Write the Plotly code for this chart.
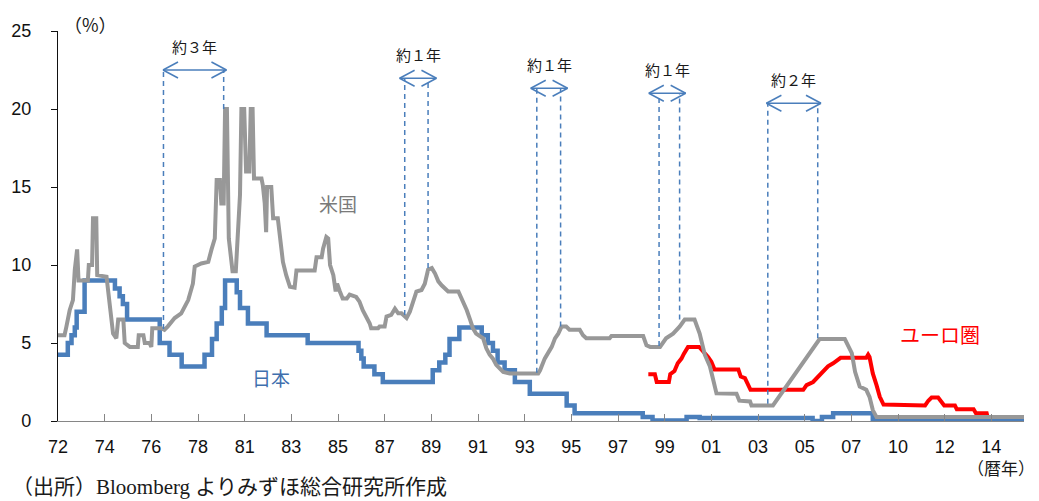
import plotly.graph_objects as go

# Time axis: one unit per labelled step
tick_labels = ["72", "74", "76", "78", "81", "83", "85", "87", "89", "91", "93",
               "95", "97", "99", "01", "03", "05", "07", "10", "12", "14"]

# Japan policy rate (step series)
jp_t = [0.00, 0.21, 0.29, 0.36, 0.40, 0.57, 1.22, 1.32, 1.39, 1.48, 2.18, 2.39,
        2.65, 3.14, 3.30, 3.40, 3.51, 3.58, 3.83, 3.90, 4.07, 4.47, 5.35, 6.44,
        6.50, 6.55, 6.78, 6.96, 8.03, 8.17, 8.30, 8.39, 8.60, 9.08, 9.21, 9.32,
        9.42, 9.57, 9.79, 10.11, 10.90, 11.07, 12.53, 12.74, 13.47, 13.75,
        16.17, 16.37, 16.61, 17.46, 20.70]
jp_rate = [4.25, 5.0, 5.5, 6.0, 7.0, 9.0, 8.5, 8.0, 7.5, 6.5, 5.0, 4.25,
           3.5, 4.25, 5.25, 6.25, 7.25, 9.0, 8.25, 7.25, 6.25, 5.5, 5.0, 4.5,
           4.0, 3.5, 3.0, 2.5, 3.25, 3.75, 4.25, 5.25, 6.0, 5.5, 5.0, 4.5,
           3.75, 3.25, 2.5, 1.75, 1.0, 0.5, 0.25, 0.03, 0.25, 0.2,
           0.0, 0.25, 0.5, 0.15, 0.15]

# US policy rate
us_t = [0.00, 0.14, 0.18, 0.25, 0.32, 0.36, 0.41, 0.44, 0.64, 0.66, 0.73, 0.75,
        0.82, 0.84, 1.04, 1.11, 1.18, 1.25, 1.29, 1.40, 1.43, 1.54, 1.71, 1.73,
        1.83, 1.86, 1.96, 2.00, 2.02, 2.21, 2.28, 2.35, 2.50, 2.64, 2.79, 2.89,
        2.93, 3.07, 3.22, 3.29, 3.36, 3.40, 3.47, 3.50, 3.55, 3.58, 3.62, 3.66,
        3.74, 3.81, 3.86, 3.90, 3.93, 3.99, 4.03, 4.10, 4.13, 4.17, 4.20, 4.36,
        4.39, 4.43, 4.46, 4.48, 4.57, 4.61, 4.71, 4.75, 4.82, 4.89, 4.97, 5.07,
        5.11, 5.50, 5.54, 5.65, 5.68, 5.75, 5.79, 5.83, 5.90, 5.95, 5.98, 6.04,
        6.10, 6.19, 6.25, 6.39, 6.46, 6.53, 6.61, 6.68, 6.71, 6.86, 6.89, 7.00,
        7.04, 7.14, 7.22, 7.29, 7.36, 7.47, 7.54, 7.61, 7.68, 7.79, 7.86, 7.93,
        8.01, 8.08, 8.15, 8.22, 8.29, 8.36, 8.58, 8.61, 8.69, 8.76, 8.83, 8.89,
        8.96, 9.11, 9.18, 9.25, 9.32, 9.39, 9.54, 9.68, 10.29, 10.33, 10.43,
        10.51, 10.58, 10.65, 10.72, 10.79, 10.89, 10.96, 11.18, 11.25, 11.32,
        11.82, 11.86, 12.54, 12.61, 12.69, 12.90, 13.03, 13.18, 13.32, 13.43,
        13.64, 13.75, 13.86, 13.97, 14.04, 14.11, 14.54, 14.60, 14.83, 14.86,
        15.32, 16.32, 16.86, 17.01, 17.08, 17.18, 17.32, 17.39, 17.46, 17.54,
        20.70]
us_rate = [5.5, 5.5, 6.05, 7.1, 7.75, 9.7, 11.0, 9.0, 9.0, 10.0, 10.0, 13.0,
           13.0, 9.35, 9.25, 7.1, 5.6, 5.3, 6.5, 6.5, 5.0, 4.75, 4.75, 5.5,
           5.5, 5.0, 5.0, 4.75, 5.95, 5.95, 5.85, 6.05, 6.6, 6.9, 7.75, 8.8,
           9.9, 10.1, 10.2, 11.0, 11.7, 15.45, 15.45, 13.95, 13.95, 20.0, 20.0, 11.7,
           9.6, 9.6, 12.35, 14.5, 20.0, 20.0, 16.0, 16.0, 20.0, 20.0, 15.55, 15.55,
           15.1, 13.95, 12.1, 15.0, 15.0, 13.0, 13.0, 11.9, 10.2, 9.35, 8.6, 8.55,
           9.65, 9.65, 10.5, 10.5, 11.05, 11.8, 11.7, 10.0, 9.35, 8.3, 8.8, 8.3,
           7.85, 7.85, 8.1, 7.95, 7.65, 7.1, 6.7, 6.25, 5.95, 5.95, 6.05, 6.05,
           6.7, 6.8, 7.2, 6.9, 6.9, 6.6, 7.0, 7.65, 8.3, 8.4, 8.8, 9.7,
           9.8, 9.45, 8.95, 8.7, 8.5, 8.3, 8.3, 8.1, 7.65, 7.1, 6.5, 5.95,
           5.6, 5.3, 4.65, 4.25, 4.0, 3.6, 3.15, 3.05, 3.05, 3.25, 4.0,
           4.45, 4.75, 5.3, 5.6, 6.05, 6.05, 5.85, 5.85, 5.5, 5.3,
           5.3, 5.45, 5.45, 4.85, 4.75, 4.75, 5.3, 5.6, 6.05, 6.5,
           6.5, 5.6, 4.25, 3.5, 2.65, 1.77, 1.75, 1.3, 1.25, 1.0,
           1.0, 5.25, 5.25, 4.35, 3.15, 2.2, 2.0, 1.55, 0.7, 0.25,
           0.25]

# Euro area policy rate
ez_t = [12.65, 12.79, 12.83, 13.09, 13.12, 13.21, 13.28, 13.36, 13.41, 13.50,
        13.74, 13.82, 13.93, 14.00, 14.07, 14.58, 14.63, 14.72, 14.77, 14.84,
        15.97, 16.04, 16.18, 16.29, 16.40, 16.50, 16.61, 16.72, 16.77, 17.32,
        17.36, 17.39, 17.46, 17.54, 17.61, 17.69, 18.58, 18.65, 18.72, 18.86,
        18.94, 18.99, 19.22, 19.26, 19.62, 19.67, 19.90, 19.92, 20.18, 20.22,
        20.70]
ez_rate = [3.0, 3.0, 2.5, 2.5, 3.0, 3.2, 3.7, 4.0, 4.3, 4.75,
           4.75, 4.5, 4.1, 3.8, 3.3, 3.3, 2.85, 2.75, 2.4, 2.0,
           2.0, 2.3, 2.5, 2.85, 3.15, 3.5, 3.7, 3.9, 4.05, 4.05,
           4.25, 4.1, 3.05, 2.3, 1.55, 1.05, 1.0, 1.3, 1.5, 1.5,
           1.15, 1.0, 1.0, 0.75, 0.75, 0.5, 0.5, 0.25, 0.25, 0.05,
           0.05]

# Lag between US and Japan turning points
lag_labels = ["約３年", "約１年", "約１年", "約１年", "約２年"]
lag_start = [2.26, 7.43, 10.26, 12.88, 15.21]
lag_end = [3.55, 7.93, 10.77, 13.32, 16.28]
lag_start_level = [5.9, 6.8, 3.1, 4.8, 1.1]
lag_end_level = [20.0, 9.8, 6.05, 6.5, 5.3]
arrow_left = [2.25, 7.32, 10.13, 12.66, 15.18]
arrow_right = [3.61, 8.11, 10.92, 13.45, 16.35]
arrow_level = [22.5, 21.97, 21.33, 21.01, 20.37]

GRAY = "#989898"
BLUE = "#4a7ebb"
RED = "#ff0000"
ANN = "#4a7ebb"
JP_FONT = "Noto Sans CJK JP"

fig = go.Figure()
fig.add_trace(go.Scatter(x=ez_t, y=ez_rate, mode="lines", name="ユーロ圏",
                         line=dict(color=RED, width=4), cliponaxis=False))
fig.add_trace(go.Scatter(x=jp_t, y=jp_rate, mode="lines", name="日本",
                         line=dict(color=BLUE, width=4.5, shape="hv"), cliponaxis=False))
fig.add_trace(go.Scatter(x=us_t, y=us_rate, mode="lines", name="米国",
                         line=dict(color=GRAY, width=4), cliponaxis=False))

shapes = []
annotations = []
for i, lab in enumerate(lag_labels):
    lv = arrow_level[i]
    # dashed guides from the turning points up to the arrow
    for xs, lo in ((lag_start[i], lag_start_level[i]), (lag_end[i], lag_end_level[i])):
        shapes.append(dict(type="line", xref="x", yref="y", x0=xs, x1=xs, y0=lo, y1=lv,
                           line=dict(color=ANN, width=1.5, dash="5px,4px")))
    # double-headed arrow
    shapes.append(dict(type="line", xref="x", yref="y", x0=arrow_left[i], x1=arrow_right[i],
                       y0=lv, y1=lv, line=dict(color=ANN, width=1.5)))
    for anchor, sgn in ((arrow_left[i], 1), (arrow_right[i], -1)):
        for dy in (8, -8):
            shapes.append(dict(type="line", xref="x", yref="y",
                               xsizemode="pixel", ysizemode="pixel",
                               xanchor=anchor, yanchor=lv,
                               x0=0, x1=15 * sgn, y0=0, y1=dy,
                               line=dict(color=ANN, width=1.5)))
    annotations.append(dict(x=(arrow_left[i] + arrow_right[i]) / 2, y=lv, yshift=24,
                            text=lab, showarrow=False, xanchor="center", yanchor="middle",
                            font=dict(family=JP_FONT, size=15, color="#1a1a1a")))

# series names
annotations += [
    dict(x=6.01, y=13.97, text="米国", showarrow=False,
         font=dict(family=JP_FONT, size=19, color="#7a7a7a")),
    dict(x=4.57, y=2.82, text="日本", showarrow=False,
         font=dict(family=JP_FONT, size=19, color="#3f6fae")),
    dict(x=18.90, y=5.55, text="ユーロ圏", showarrow=False,
         font=dict(family=JP_FONT, size=20, color=RED)),
    dict(x=0, y=25, xref="x", yref="y", xanchor="left", yanchor="middle",
         xshift=4, yshift=7, text="（%）", showarrow=False,
         font=dict(family=JP_FONT, size=18, color="#1a1a1a")),
    dict(x=1, y=-0.118, xref="paper", yref="paper", xanchor="right", yanchor="middle",
         xshift=13, text="（暦年）", showarrow=False,
         font=dict(family=JP_FONT, size=17, color="#1a1a1a")),
    dict(x=-0.050, y=-0.168, xref="paper", yref="paper", xanchor="left", yanchor="middle",
         text="（出所）Bloomberg よりみずほ総合研究所作成", showarrow=False,
         font=dict(family="Liberation Serif, Noto Sans CJK JP", size=21, color="#1a1a1a")),
]

fig.update_layout(
    width=1039, height=501,
    margin=dict(l=58, r=15, t=31, b=80),
    paper_bgcolor="white", plot_bgcolor="white",
    showlegend=False,
    shapes=shapes,
    annotations=annotations,
    xaxis=dict(range=[0, 20.70], tickmode="array", tickvals=list(range(len(tick_labels))),
               ticktext=tick_labels, showgrid=False, zeroline=False,
               showline=True, linecolor="#868686", linewidth=1.3,
               ticks="inside", ticklen=7, tickcolor="#868686", tickwidth=1.3,
               ticklabelstandoff=9,
               tickfont=dict(family="Liberation Sans", size=18, color="#111111")),
    yaxis=dict(range=[0, 25], tickmode="array", tickvals=[0, 5, 10, 15, 20, 25],
               showgrid=False, zeroline=False,
               showline=True, linecolor="#111111", linewidth=1.3,
               ticks="outside", ticklen=6, tickcolor="#111111", tickwidth=1.3,
               ticklabelstandoff=16,
               tickfont=dict(family="Liberation Sans", size=18, color="#111111")),
)

fig.write_html("out.html")
